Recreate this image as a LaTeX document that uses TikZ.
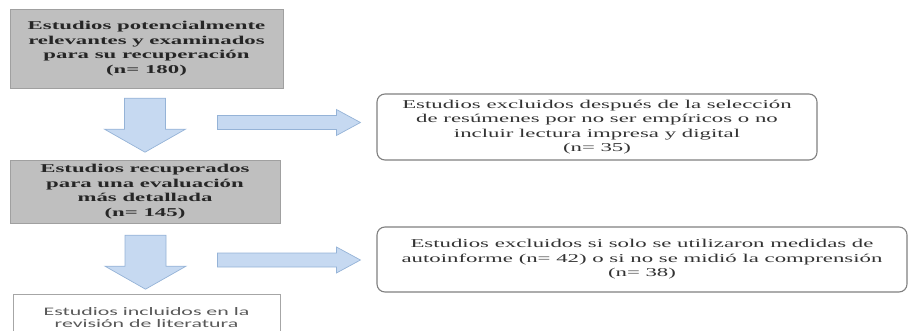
\documentclass[tikz,border=0pt]{standalone}
\usepackage{fontspec}
\setmainfont[FakeStretch=1.9]{Liberation Serif}
\newfontfamily\calibfont[FakeStretch=1.9]{Carlito}
\usetikzlibrary{calc}
\definecolor{boxgray}{HTML}{BFBFBF}
\definecolor{boxedge}{HTML}{A0A0A0}
\definecolor{arrowblue}{HTML}{C6D9F1}
\definecolor{arrowedge}{HTML}{95B3D7}
\definecolor{exedge}{HTML}{808080}

\tikzset{
  graybox/.style = {draw=boxedge, fill=boxgray, align=center, inner sep=0pt,
    font=\bfseries\fontsize{12}{14.5}\selectfont, text=black!85},
  exclbox/.style = {draw=exedge, line width=1.1pt, rounded corners=8pt, fill=white,
    align=center, inner sep=0pt, font=\fontsize{12}{14.5}\selectfont, text=black!80},
  blockarrow/.style = {draw=arrowedge, fill=arrowblue, line width=0.7pt},
  downblock/.pic = {
    \draw[blockarrow] (-20.5,0) -- (20.5,0) -- (20.5,31) -- (40.5,31)
      -- (0,54) -- (-40.5,31) -- (-20.5,31) -- cycle;
  },
  rightblock/.pic = {
    \draw[blockarrow] (0,-7) -- (119,-7) -- (119,-13) -- (143,0)
      -- (119,13) -- (119,7) -- (0,7) -- cycle;
  },
}

\begin{document}
\begin{tikzpicture}[x=1pt, y=-1pt]
  \useasboundingbox (0,0) rectangle (909,331);

  % main column
  \node[graybox, minimum width=273, minimum height=79] (found) at (146.5,48.5)
    {Estudios potencialmente\\relevantes y examinados\\para su recuperación\\(n= 180)};
  \node[graybox, minimum width=270, minimum height=63] (retrieved) at (145,191.5)
    {Estudios recuperados\\para una evaluación\\más detallada\\(n= 145)};
  \draw[draw=black!35, line width=0.8pt] (13,294) rectangle (280,345);
  \node[font=\calibfont\fontsize{11.5}{12}\selectfont, text=black!65, align=center] (included) at (146.5,318)
    {Estudios incluidos en la\\revisión de literatura};

  % exclusions
  \node[exclbox, minimum width=440, minimum height=66] (noempir) at (597,127)
    {Estudios excluidos después de la selección\\de resúmenes por no ser empíricos o no\\incluir lectura impresa y digital\\(n= 35)};
  \node[exclbox, minimum width=530, minimum height=65] (selfrep) at (642,259.5)
    {Estudios excluidos si solo se utilizaron medidas de\\autoinforme (n= 42) o si no se midió la comprensión\\(n= 38)};

  % block arrows
  \pic at ($(found.south)+(-1.5,10)$) {downblock};
  \pic at ($(retrieved.south)+(0.5,12)$) {downblock};
  \pic at ($(noempir.west)+(-159,-4.5)$) {rightblock};
  \pic at ($(selfrep.west)+(-159,0.5)$) {rightblock};
\end{tikzpicture}
\end{document}
